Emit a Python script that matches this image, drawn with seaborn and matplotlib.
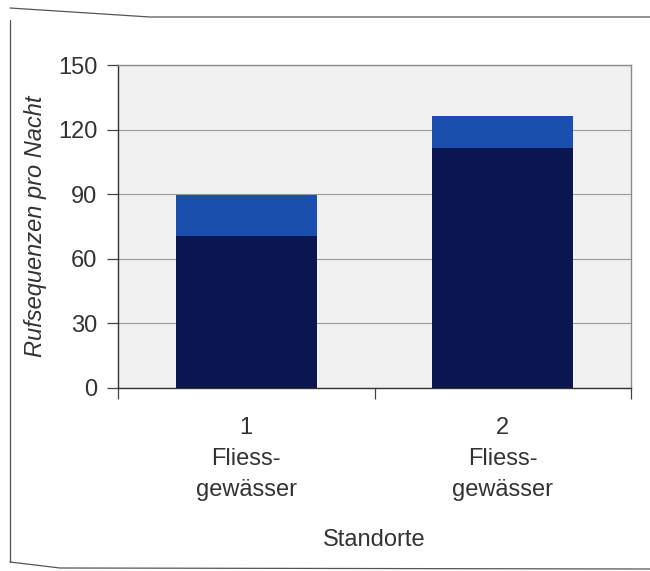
import matplotlib
matplotlib.use("Agg")
import matplotlib.pyplot as plt
from matplotlib.lines import Line2D
import seaborn as sns
import pandas as pd

categories = ["1\nFliess-\ngewässer", "2\nFliess-\ngewässer"]
totals = [89.5, 126.3]      # top of light-blue segment
lower = [70.5, 111.5]       # dark navy segment
y_ticks = [0, 30, 60, 90, 120, 150]

sns.set_theme(style="white")
plt.rcParams["font.family"] = ["Liberation Sans", "DejaVu Sans"]

df = pd.DataFrame({"Standort": categories, "total": totals, "lower": lower})

fig = plt.figure(figsize=(6.5, 5.71), dpi=100)
fig.patch.set_facecolor("white")
ax = fig.add_axes([118/650, 1-388/571, (631-118)/650, (388-65)/571])
ax.set_facecolor("#f1f1f1")

sns.barplot(data=df, x="Standort", y="total", color="#1a4fb0", width=0.55,
            saturation=1, ax=ax, zorder=2, linewidth=0, edgecolor="none")
sns.barplot(data=df, x="Standort", y="lower", color="#0b1650", width=0.55,
            saturation=1, ax=ax, zorder=3, linewidth=0, edgecolor="none")

txt = "#333333"
ax.set_ylim(0, 150)
ax.set_xlim(-0.5, 1.5)
ax.set_yticks(y_ticks)
ax.set_yticklabels([str(v) for v in y_ticks], fontsize=17, color=txt)
ax.yaxis.grid(True, color="#9a9a9a", linewidth=0.8, zorder=1)
ax.set_axisbelow(True)

# x ticks between categories
ax.set_xticks([-0.5, 0.5, 1.5], minor=False)
ax.set_xticklabels(["", "", ""])
ax.set_xticks([0, 1], minor=True)
ax.set_xticklabels(categories, minor=True, fontsize=17, color=txt,
                   linespacing=1.52)
ax.tick_params(axis="x", which="major", direction="out", length=8, width=0.9,
               color="#444444", bottom=True)
ax.tick_params(axis="x", which="minor", length=0, pad=21)
ax.tick_params(axis="y", direction="out", length=8, width=0.9, color="#444444",
               left=True, pad=7)

for s in ["left", "bottom"]:
    ax.spines[s].set_color("#333333")
    ax.spines[s].set_linewidth(1.0)
for s in ["top", "right"]:
    ax.spines[s].set_color("#8a8a8a")
    ax.spines[s].set_linewidth(1.0)

ax.set_xlabel("Standorte", fontsize=17, color=txt, labelpad=20)
ax.set_ylabel("Rufsequenzen pro Nacht", fontsize=17, color=txt,
              style="italic", labelpad=8)

# page frame lines
fig.add_artist(Line2D([10/650, 10/650], [1-20/571, 1-562/571], color="#555555",
                      linewidth=0.9, transform=fig.transFigure))
fig.add_artist(Line2D([10/650, 150/650, 650/650], [1-8/571, 1-17/571, 1-17/571],
                      color="#555555", linewidth=0.9, transform=fig.transFigure))
fig.add_artist(Line2D([10/650, 60/650, 650/650], [1-562/571, 1-568/571, 1-569/571],
                      color="#555555", linewidth=0.9, transform=fig.transFigure))

fig.savefig("out.png", dpi=100)
